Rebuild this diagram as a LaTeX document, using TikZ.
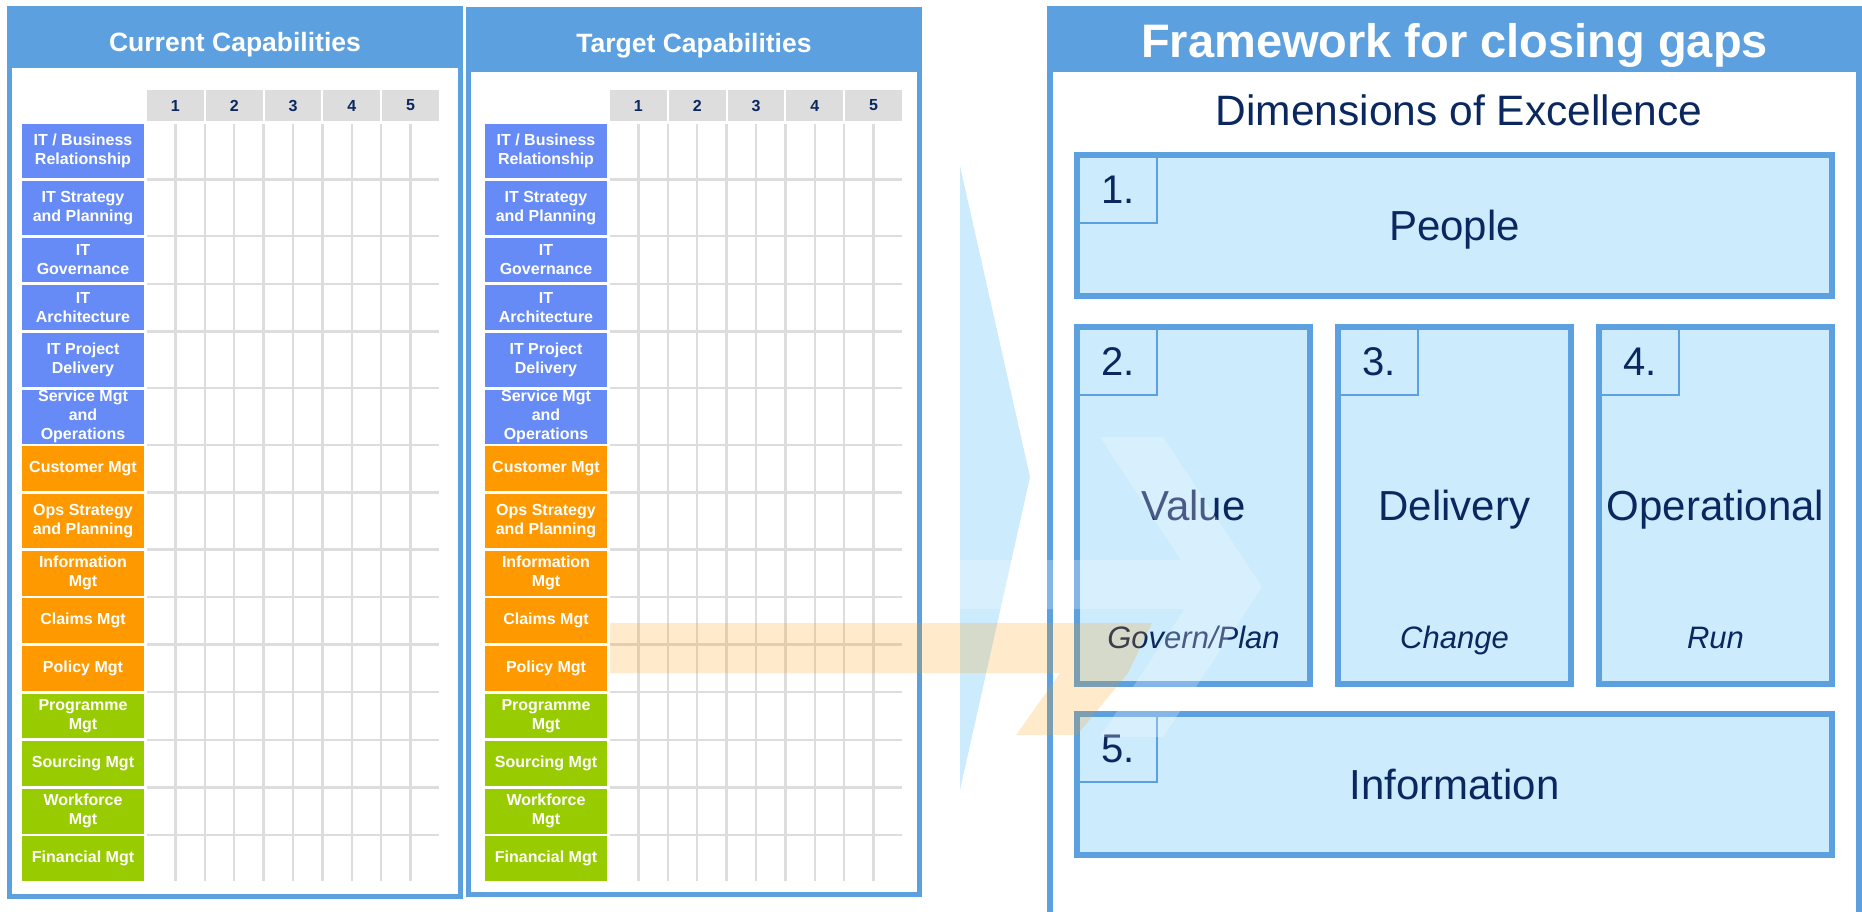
\documentclass[tikz,border=0pt]{standalone}
\usepackage{fontspec}
\setmainfont{Liberation Sans}
\usetikzlibrary{positioning,chains}

\definecolor{panelblue}{RGB}{92,160,224}
\definecolor{itblue}{RGB}{102,139,246}
\definecolor{opsorange}{RGB}{255,153,0}
\definecolor{mgtgreen}{RGB}{153,204,0}
\definecolor{hdrgray}{RGB}{221,221,221}
\definecolor{dimfill}{RGB}{204,235,253}
\definecolor{navy}{RGB}{10,40,95}

\begin{document}
\begin{tikzpicture}[%
    x=1pt, y=-1pt,              % one unit is one pixel of the slide, y runs down
    node distance=2.8pt,        % gap between stacked capability boxes
    ]
% -------------------------------------------------
% Box styles
\tikzset{
  rowbase/.style={on chain, inner sep=0pt, outer sep=0pt, align=center},
  capbox/.style={rowbase, minimum width=122pt, text=white,
    font={\bfseries\fontsize{16}{19}\selectfont}},
  itcap/.style={capbox, fill=itblue},
  opscap/.style={capbox, fill=opsorange},
  mgtcap/.style={capbox, fill=mgtgreen},
  tallrow/.style={minimum height=54pt},
  shortrow/.style={minimum height=44.8pt},
  hcell/.style={rowbase, fill=hdrgray, minimum width=56.8pt, minimum height=31pt,
    text=navy, font={\bfseries\fontsize{16}{19}\selectfont}},
  gl/.style={draw=hdrgray, line width=2.4pt},
  panel/.style={draw=panelblue, fill=white, line width=5pt, inner sep=0pt},
  band/.style={fill=panelblue, inner sep=0pt, outer sep=0pt, anchor=north},
  bandtxt/.style={anchor=base, text=white, font={\bfseries\fontsize{26.5}{30}\selectfont}},
  dimbox/.style={draw=panelblue, fill=dimfill, line width=6pt, inner sep=0pt,
    text depth=0pt, text=navy, font={\fontsize{42}{48}\selectfont}},
  numbox/.style={draw=panelblue, fill=dimfill, line width=2pt, inner sep=0pt,
    minimum width=78pt, minimum height=66pt, anchor=north west,
    text=navy, font={\fontsize{40}{46}\selectfont}},
  dimsub/.style={anchor=base, text=navy, font={\itshape\fontsize{31}{36}\selectfont}}
}
\path [use as bounding box, fill=white] (0,0) rectangle (1862,911);
% -------------------------------------------------
% The three panels
\node [panel, minimum width=451pt, minimum height=888pt] (curbox) at (235,452.5) {};
\node [band, minimum width=456pt, minimum height=62pt] (curband) at (curbox.north) {};
\node [bandtxt] (curtitle) at ([yshift=-14pt]curband.center) {Current Capabilities};

\node [panel, minimum width=451pt, minimum height=885pt] (tgtbox) at (694,452) {};
\node [band, minimum width=456pt, minimum height=65pt] (tgtband) at (tgtbox.north) {};
\node [bandtxt] (tgttitle) at ([yshift=-13pt]tgtband.center) {Target Capabilities};

\node [panel, line width=6pt, minimum width=809pt, minimum height=931pt] (fwbox) at (1454.5,474.5) {};
\node [band, minimum width=815pt, minimum height=66pt] (fwband) at (fwbox.north) {};
\node [bandtxt, font={\bfseries\fontsize{47}{52}\selectfont}] (fwtitle)
  at ([yshift=-18pt]fwband.center) {Framework for closing gaps};

% -------------------------------------------------
% Rating headers
\begin{scope}[start chain=going right, node distance=2pt]
\node [hcell] (ch1) at (175.4,105.5) {1};
\node [hcell] (ch2) {2};
\node [hcell] (ch3) {3};
\node [hcell] (ch4) {4};
\node [hcell] (ch5) {5};
\end{scope}
\begin{scope}[start chain=going right, node distance=2pt]
\node [hcell, right=406.2pt of ch1] (th1) {1};
\node [hcell] (th2) {2};
\node [hcell] (th3) {3};
\node [hcell] (th4) {4};
\node [hcell] (th5) {5};
\end{scope}

% -------------------------------------------------
% Current capabilities
\begin{scope}[start chain=going below]
\node [itcap, tallrow] (c1) at (83,151) {IT / Business\\Relationship};
\node [itcap, tallrow] (c2) {IT Strategy\\and Planning};
\node [itcap, shortrow] (c3) {IT\\Governance};
\node [itcap, shortrow] (c4) {IT\\Architecture};
\node [itcap, tallrow] (c5) {IT Project\\Delivery};
\node [itcap, tallrow] (c6) {Service Mgt\\and\\Operations};
\node [opscap, shortrow] (c7) {Customer Mgt};
\node [opscap, tallrow] (c8) {Ops Strategy\\and Planning};
\node [opscap, shortrow] (c9) {Information\\Mgt};
\node [opscap, shortrow] (c10) {Claims Mgt};
\node [opscap, shortrow] (c11) {Policy Mgt};
\node [mgtcap, shortrow] (c12) {Programme\\Mgt};
\node [mgtcap, shortrow] (c13) {Sourcing Mgt};
\node [mgtcap, shortrow] (c14) {Workforce\\Mgt};
\node [mgtcap, shortrow] (c15) {Financial Mgt};
\end{scope}

% Target capabilities, same rows
\begin{scope}[start chain=going below]
\node [itcap, tallrow, right=341pt of c1] (t1) {IT / Business\\Relationship};
\node [itcap, tallrow] (t2) {IT Strategy\\and Planning};
\node [itcap, shortrow] (t3) {IT\\Governance};
\node [itcap, shortrow] (t4) {IT\\Architecture};
\node [itcap, tallrow] (t5) {IT Project\\Delivery};
\node [itcap, tallrow] (t6) {Service Mgt\\and\\Operations};
\node [opscap, shortrow] (t7) {Customer Mgt};
\node [opscap, tallrow] (t8) {Ops Strategy\\and Planning};
\node [opscap, shortrow] (t9) {Information\\Mgt};
\node [opscap, shortrow] (t10) {Claims Mgt};
\node [opscap, shortrow] (t11) {Policy Mgt};
\node [mgtcap, shortrow] (t12) {Programme\\Mgt};
\node [mgtcap, shortrow] (t13) {Sourcing Mgt};
\node [mgtcap, shortrow] (t14) {Workforce\\Mgt};
\node [mgtcap, shortrow] (t15) {Financial Mgt};
\end{scope}

% Rating grids
\foreach \hd/\rw in {ch/c, th/t} {
  \foreach \k in {0,...,8}
    \draw [gl] ([xshift=\k*29.4pt]\hd1.center |- \rw1.north) -- ([xshift=\k*29.4pt]\hd1.center |- \rw15.south);
  \foreach \i in {1,...,14}
    \draw [gl] ([yshift=-1.4pt]\rw\i.south -| \hd1.west) -- ([yshift=-1.4pt]\rw\i.south -| \hd5.east);
}

% -------------------------------------------------
% Big arrow between the panels
\fill [dimfill] (960,166) -- (1030,477) -- (960,790) -- cycle;

% -------------------------------------------------
% Dimensions of excellence
\node [anchor=base, text=navy, font={\fontsize{42.5}{48}\selectfont}] (dimtitle) at (1459,125) {Dimensions of Excellence};

\node [dimbox, minimum width=755pt, minimum height=141pt] (people) at (1454.5,225.5) {People};
\node [dimbox, minimum width=233pt, minimum height=357pt, below=25pt of people.south west, anchor=north west] (value) {Value};
\node [dimbox, minimum width=233pt, minimum height=357pt, right=22pt of value] (delivery) {Delivery};
\node [dimbox, minimum width=233pt, minimum height=357pt, right=22pt of delivery] (oper) {Operational};
\node [dimbox, minimum width=755pt, minimum height=141pt, below=24pt of value.south west, anchor=north west] (info) {Information};

\node [numbox] (n1) at ([shift={(4pt,-4pt)}]people.north west) {1.};
\node [numbox] (n2) at ([shift={(4pt,-4pt)}]value.north west) {2.};
\node [numbox] (n3) at ([shift={(4pt,-4pt)}]delivery.north west) {3.};
\node [numbox] (n4) at ([shift={(4pt,-4pt)}]oper.north west) {4.};
\node [numbox] (n5) at ([shift={(4pt,-4pt)}]info.north west) {5.};

\node [dimsub] (govern) at ([yshift=-143pt]value.center) {Govern/Plan};
\node [dimsub] (change) at ([yshift=-143pt]delivery.center) {Change};
\node [dimsub] (run) at ([yshift=-143pt]oper.center) {Run};

% -------------------------------------------------
% Faded arrows lying over the slide
\fill [white, opacity=0.25] (960,560) -- (1181,560) -- (1100,437) -- (1163,437) -- (1262,587)
  -- (1163,737) -- (1100,737) -- (1184.5,609) -- (960,609) -- cycle;
\fill [opsorange, opacity=0.2] (610,623) -- (1152,623) -- (1128,673) -- (1077,735)
  -- (1016,735) -- (1060,673) -- (610,673) -- cycle;
% -------------------------------------------------
\end{tikzpicture}
\end{document}
